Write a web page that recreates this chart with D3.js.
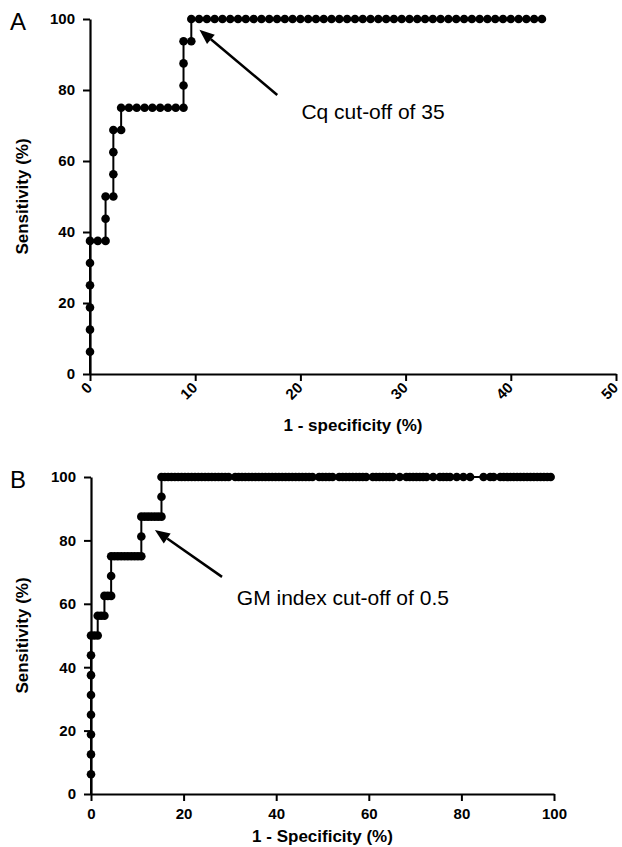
<!DOCTYPE html>
<html>
<head>
<meta charset="utf-8">
<script src="https://cdn.jsdelivr.net/npm/d3@7"></script>
<style>
  body { margin: 0; padding: 0; background: #fff; }
  svg { display: block; font-family: "Liberation Sans", Arial, sans-serif; }
  .tick text { font-weight: bold; font-size: 15px; fill: #000; }
  .axis-title { font-weight: bold; font-size: 17px; }
  .note { font-size: 21px; }
  .panel-letter { font-size: 24px; }
</style>
</head>
<body>
<script>
// panel A : Cq cut-off (1 - specificity %, sensitivity %)
var aStepX = [0, 0, 0, 0, 0, 0, 0.74, 1.48, 1.48, 1.48, 2.22, 2.22, 2.22, 2.22, 2.96, 2.96,
              3.70, 4.44, 5.19, 5.93, 6.67, 7.41, 8.15, 8.89, 8.89, 8.89, 8.89, 9.63];
var aStepY = [6.25, 12.5, 18.75, 25, 31.25, 37.5, 37.5, 37.5, 43.75, 50, 50, 56.25, 62.5, 68.75, 68.75, 75,
              75, 75, 75, 75, 75, 75, 75, 75, 81.25, 87.5, 93.75, 93.75];
// points on the 100 % plateau
var aTopX = [9.63, 10.37, 11.11, 11.85, 12.59, 13.33, 14.07, 14.81, 15.56, 16.30, 17.04, 17.78, 18.52,
             19.26, 20.00, 20.74, 21.48, 22.22, 22.96, 23.70, 24.44, 25.19, 25.93, 26.67, 27.41, 28.15,
             28.89, 29.63, 30.37, 31.11, 31.85, 32.59, 33.33, 34.07, 34.81, 35.56, 36.30, 37.04, 37.78,
             38.52, 39.26, 40.00, 40.74, 41.48, 42.22, 42.96];
var aXTicks = [0, 10, 20, 30, 40, 50];

// panel B : GM index cut-off
var bStepX = [0, 0, 0, 0, 0, 0, 0, 0, 0.72, 1.45, 1.45, 2.17, 2.90, 2.90, 3.62, 4.35, 4.35,
              4.35, 5.07, 5.80, 6.52, 7.25, 7.97, 8.70, 9.42, 10.14, 10.87, 10.87,
              10.87, 11.59, 12.32, 13.04, 13.77, 14.49, 15.22, 15.22];
var bStepY = [6.25, 12.5, 18.75, 25, 31.25, 37.5, 43.75, 50, 50, 50, 56.25, 56.25, 56.25, 62.5, 62.5, 62.5, 68.75,
              75, 75, 75, 75, 75, 75, 75, 75, 75, 75, 81.25,
              87.5, 87.5, 87.5, 87.5, 87.5, 87.5, 87.5, 93.75];
var bTopX = [15.22, 15.94, 16.67, 17.39, 18.12, 18.84, 19.57, 20.29, 21.01, 21.74, 22.46, 23.19, 23.91,
             24.64, 25.36, 26.09, 26.81, 27.54, 28.26, 28.99, 29.71, 31.16, 31.88, 32.61, 33.33, 34.06,
             34.78, 35.51, 36.23, 36.96, 37.68, 38.41, 39.13, 39.86, 40.58, 41.30, 42.03, 42.75, 43.48,
             44.20, 44.93, 45.65, 46.38, 47.10, 47.83, 49.28, 50.00, 50.72, 51.45, 52.17, 53.62, 54.35,
             55.07, 55.80, 56.52, 57.25, 57.97, 58.70, 59.42, 60.87, 61.59, 62.32, 63.04, 63.77, 64.49,
             65.22, 66.67, 68.12, 68.84, 69.57, 70.29, 71.01, 71.74, 72.46, 73.91, 75.36, 76.09, 76.81,
             77.54, 78.99, 80.43, 81.88, 84.78, 86.23, 86.96, 88.41, 89.13, 89.86, 90.58, 91.30, 92.03,
             92.75, 93.48, 94.20, 94.93, 95.65, 96.38, 97.10, 97.83, 98.55, 99.28];
var bXTicks = [0, 20, 40, 60, 80, 100];

var yTicks = [0, 20, 40, 60, 80, 100];

var svg = d3.select("body").append("svg")
    .attr("width", 622)
    .attr("height", 847);

function drawPanel(cfg) {
  var x = d3.scaleLinear().domain([0, cfg.xMax]).range([cfg.left, cfg.right]);
  var y = d3.scaleLinear().domain([0, 100]).range([cfg.bottom, cfg.top]);
  var g = svg.append("g");

  var pts = cfg.stepX.map(function (d, i) { return { x: d, y: cfg.stepY[i] }; })
    .concat(cfg.topX.map(function (d) { return { x: d, y: 100 }; }));

  // axes
  g.append("g")
    .attr("transform", "translate(" + cfg.left + ",0)")
    .call(d3.axisLeft(y).tickValues(yTicks).tickSize(7).tickSizeOuter(0).tickPadding(8));
  var xAxis = g.append("g")
    .attr("transform", "translate(0," + cfg.bottom + ")")
    .call(d3.axisBottom(x).tickValues(cfg.xTicks).tickSize(7).tickSizeOuter(0).tickPadding(4));
  g.selectAll(".domain").attr("stroke", "#000").attr("stroke-width", 2.2);
  g.selectAll(".tick line").attr("stroke", "#000").attr("stroke-width", 2);

  if (cfg.rotate) {
    xAxis.selectAll(".tick text")
      .attr("text-anchor", "end")
      .attr("y", 0)
      .attr("dy", "0.35em")
      .attr("transform", "translate(-1,11) rotate(-45)");
  } else {
    xAxis.selectAll(".tick text").attr("dy", "0.9em");
  }

  // curve
  var line = d3.line().x(function (d) { return x(d.x); }).y(function (d) { return y(d.y); });
  g.append("path")
    .datum([{ x: 0, y: 0 }].concat(pts))
    .attr("d", line)
    .attr("fill", "none")
    .attr("stroke", "#000")
    .attr("stroke-width", 2);
  g.selectAll("circle.pt").data(pts).enter().append("circle")
    .attr("class", "pt")
    .attr("cx", function (d) { return x(d.x); })
    .attr("cy", function (d) { return y(d.y); })
    .attr("r", 4.3)
    .attr("fill", "#000");

  // titles
  g.append("text").attr("class", "axis-title")
    .attr("x", (cfg.left + cfg.right) / 2).attr("y", cfg.xTitleY)
    .attr("text-anchor", "middle").text(cfg.xTitle);
  g.append("text").attr("class", "axis-title")
    .attr("transform", "translate(28," + (cfg.top + cfg.bottom) / 2 + ") rotate(-90)")
    .attr("text-anchor", "middle").text("Sensitivity (%)");
  g.append("text").attr("class", "panel-letter")
    .attr("x", 10).attr("y", cfg.top + 11).text(cfg.letter);

  // annotation arrow
  var x1 = x(cfg.arrow[0]), y1 = y(cfg.arrow[1]), x2 = x(cfg.arrow[2]), y2 = y(cfg.arrow[3]);
  var ang = Math.atan2(y2 - y1, x2 - x1);
  var hl = 15, hw = 6;
  var bx = x2 - hl * Math.cos(ang), by = y2 - hl * Math.sin(ang);
  g.append("line")
    .attr("x1", x1).attr("y1", y1).attr("x2", bx).attr("y2", by)
    .attr("stroke", "#000").attr("stroke-width", 2.5);
  g.append("path")
    .attr("d", "M" + x2 + "," + y2 +
      "L" + (bx + hw * Math.sin(ang)) + "," + (by - hw * Math.cos(ang)) +
      "L" + (bx - hw * Math.sin(ang)) + "," + (by + hw * Math.cos(ang)) + "Z")
    .attr("fill", "#000");
  g.append("text").attr("class", "note")
    .attr("x", x(cfg.note[0])).attr("y", y(cfg.note[1]))
    .text(cfg.noteText);
}

drawPanel({
  letter: "A", left: 90, right: 616, top: 19, bottom: 374, xMax: 50,
  stepX: aStepX, stepY: aStepY, topX: aTopX, xTicks: aXTicks, rotate: true,
  xTitle: "1 - specificity (%)", xTitleY: 431,
  arrow: [17.8, 78.6, 10.4, 97.0], note: [20.1, 71.8], noteText: "Cq cut-off of 35"
});

drawPanel({
  letter: "B", left: 91, right: 554, top: 477, bottom: 794, xMax: 100,
  stepX: bStepX, stepY: bStepY, topX: bTopX, xTicks: bXTicks, rotate: false,
  xTitle: "1 - Specificity (%)", xTitleY: 842,
  arrow: [28.3, 68.5, 13.8, 83.3], note: [31.5, 59.6], noteText: "GM index cut-off of 0.5"
});
</script>
</body>
</html>
